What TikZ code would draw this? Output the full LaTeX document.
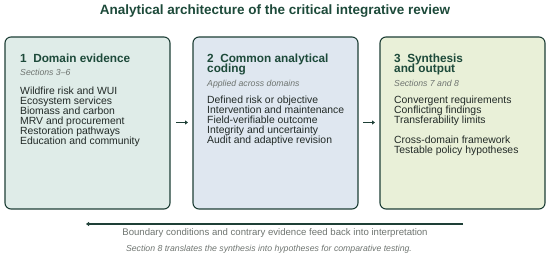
\documentclass[tikz,border=0pt]{standalone}
\usepackage{fontspec}
\setmainfont{Liberation Sans}
\usetikzlibrary{arrows.meta}
\definecolor{dkgreen}{HTML}{1D4A3A}
\definecolor{border}{HTML}{1E3F36}
\definecolor{fillA}{HTML}{DFECE8}
\definecolor{fillB}{HTML}{DFE7F0}
\definecolor{fillC}{HTML}{E9F0D8}
\definecolor{txt}{HTML}{222A27}
\definecolor{gry}{HTML}{6E7470}
\tikzset{
  panel/.style={draw=border, line width=1.1pt, rounded corners=6pt},
  head/.style={anchor=base west, inner sep=0pt, text=dkgreen, font=\fontsize{11.8}{10}\selectfont\bfseries},
  sub/.style={anchor=base west, inner sep=0pt, text=gry, font=\fontsize{8.7}{10}\selectfont\itshape},
  body/.style={anchor=base west, inner sep=0pt, text=txt, font=\fontsize{10.4}{10}\selectfont},
  flow/.style={draw=border, line width=1.3pt, -{Triangle[length=3pt,width=4pt]}},
}
\begin{document}
\begin{tikzpicture}[x=1pt,y=-1pt]
\useasboundingbox (0,0) rectangle (550,259);
\node[anchor=base, inner sep=0pt, text=dkgreen, font=\fontsize{13.5}{16}\selectfont\bfseries] (title) at (275,15) {Analytical architecture of the critical integrative review};

\draw[panel, fill=fillA] (5,37) rectangle (170,209);
\draw[panel, fill=fillB] (193,37) rectangle (358,209);
\draw[panel, fill=fillC] (380,37) rectangle (545,209);
\coordinate (pAe) at (170,122.5);
\coordinate (pBw) at (193,122.5);
\coordinate (pBe) at (358,122.5);
\coordinate (pCw) at (380,122.5);

\node[head] (h1) at (20,62.5) {1\hspace{0.55em}Domain evidence};
\node[sub] (s1) at (20,76) {Sections 3--6};
\foreach \t [count=\i] in {Wildfire risk and WUI,Ecosystem services,Biomass and carbon,MRV and procurement,Restoration pathways,Education and community}
  \node[body] (a\i) at (20,{95+10*(\i-1)}) {\t};

\node[head] (h2) at (207,62.5) {2\hspace{0.55em}Common analytical};
\node[head] (h2b) at (207,73) {coding};
\node[sub] (s2) at (207,87) {Applied across domains};
\foreach \t [count=\i] in {Defined risk or objective,Intervention and maintenance,Field-verifiable outcome,Integrity and uncertainty,Audit and adaptive revision}
  \node[body] (b\i) at (207,{104+10*(\i-1)}) {\t};

\node[head] (h3) at (394,62.5) {3\hspace{0.55em}Synthesis};
\node[head] (h3b) at (394,73) {and output};
\node[sub] (s3) at (394,87) {Sections 7 and 8};
\foreach \t [count=\i] in {Convergent requirements,Conflicting findings,Transferability limits}
  \node[body] (c\i) at (394,{104+10*(\i-1)}) {\t};
\foreach \t [count=\i] in {Cross-domain framework,Testable policy hypotheses}
  \node[body] (d\i) at (394,{144+10*(\i-1)}) {\t};

\draw[flow] ([xshift=6pt]pAe) -- ([xshift=-5pt]pBw);
\draw[flow] ([xshift=5pt]pBe) -- ([xshift=-5pt]pCw);

\coordinate (fbR) at (463,224);
\coordinate (fbL) at (86,224);
\draw[flow] (fbR) -- (fbL);
\node[anchor=base, inner sep=0pt, text=gry, font=\fontsize{9.6}{10}\selectfont] (fbtxt) at (275,235.5) {Boundary conditions and contrary evidence feed back into interpretation};
\node[anchor=base, inner sep=0pt, text=gry, font=\fontsize{8.7}{10}\selectfont\itshape] (note) at (269,252) {Section 8 translates the synthesis into hypotheses for comparative testing.};
\end{tikzpicture}
\end{document}
